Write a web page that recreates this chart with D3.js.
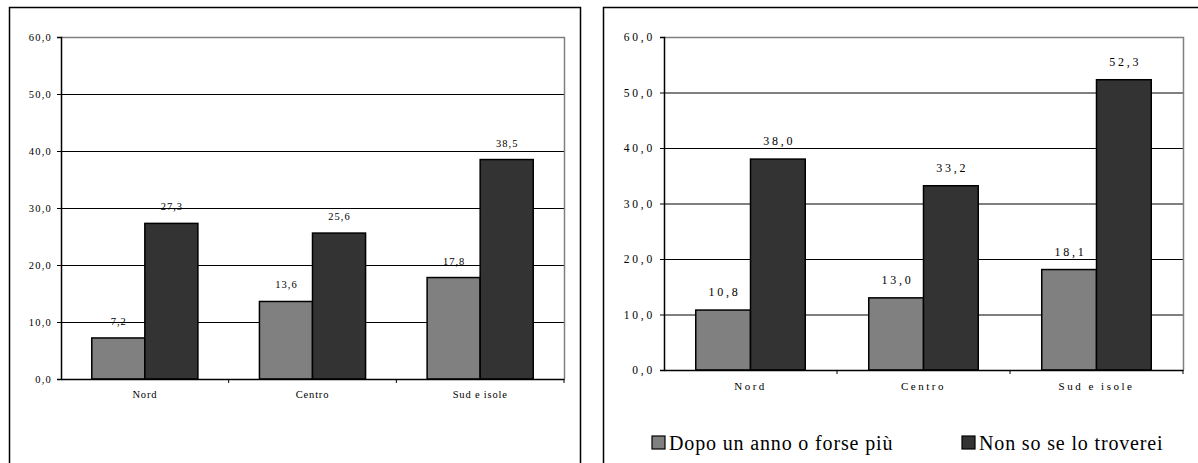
<!DOCTYPE html>
<html>
<head>
<meta charset="utf-8">
<script src="https://cdn.jsdelivr.net/npm/d3@7"></script>
<style>
  html, body { margin: 0; padding: 0; background: #fff; }
  svg { display: block; }
</style>
</head>
<body>
<svg id="chart" width="1198" height="463" font-family="Liberation Serif"></svg>
<script>
// Areas and answer groups
const categories = ["Nord", "Centro", "Sud e isole"];
const seriesNames = ["Dopo un anno o forse più", "Non so se lo troverei"];
const seriesColors = ["#808080", "#333333"];

// Left panel values (%)
const leftAfterYear = [7.2, 13.6, 17.8];
const leftDontKnow = [27.3, 25.6, 38.5];

// Right panel values (%)
const rightAfterYear = [10.8, 13.0, 18.1];
const rightDontKnow = [38.0, 33.2, 52.3];

const yTicks = [0, 10, 20, 30, 40, 50, 60];

const fmt = v => v.toFixed(1).replace(".", ",");

const svg = d3.select("#chart");

// serif text styling on a selection
function serif(sel, size, spacing) {
  sel.attr("font-family", "Liberation Serif")
    .attr("font-size", size)
    .attr("letter-spacing", spacing)
    .attr("fill", "#000");
  return sel;
}

function drawPanel(cfg) {
  const g = svg.append("g");
  // panel frame (open towards the window edges)
  g.append("path")
    .attr("d", `M${cfg.frame.x},${cfg.frame.bottom} V${cfg.frame.y} H${cfg.frame.right}` +
      (cfg.frame.closeRight ? ` V${cfg.frame.bottom}` : ""))
    .attr("fill", "none").attr("stroke", "#000").attr("stroke-width", 1.5);

  const x = d3.scaleBand().domain(categories).range([cfg.left, cfg.right]).padding(0);
  const xs = d3.scaleBand().domain([0, 1]).range([0, x.bandwidth()])
    .paddingInner(0).paddingOuter(0.58);
  const y = d3.scaleLinear().domain([0, 60]).range([cfg.bottom, cfg.top]);

  // horizontal gridlines
  g.append("g").selectAll("line").data(yTicks.filter(t => t > 0 && t < 60)).join("line")
    .attr("x1", cfg.left).attr("x2", cfg.right)
    .attr("y1", d => y(d) + 0.5).attr("y2", d => y(d) + 0.5)
    .attr("stroke", "#000").attr("stroke-width", 1);

  // plot area border (top and right)
  g.append("path")
    .attr("d", `M${cfg.left},${y(60) + 0.5} H${cfg.right + 0.5} V${cfg.bottom}`)
    .attr("fill", "none").attr("stroke", "#808080").attr("stroke-width", 1.5);

  // bars
  const rows = categories.map((c, i) => ({ c, vals: [cfg.s1[i], cfg.s2[i]] }));
  const grp = g.append("g").selectAll("g").data(rows).join("g")
    .attr("transform", d => `translate(${x(d.c)},0)`);
  grp.selectAll("rect").data(d => d.vals.map((v, k) => ({ v, k }))).join("rect")
    .attr("x", d => xs(d.k))
    .attr("width", xs.bandwidth())
    .attr("y", d => y(d.v))
    .attr("height", d => y(0) - y(d.v))
    .attr("fill", d => seriesColors[d.k])
    .attr("stroke", "#000").attr("stroke-width", 1.5);
  grp.selectAll("text").data(d => d.vals.map((v, k) => ({ v, k }))).join("text")
    .attr("x", d => xs(d.k) + xs.bandwidth() / 2 + cfg.valueSpacing / 2)
    .attr("y", d => y(d.v) - cfg.labelGap)
    .attr("text-anchor", "middle")
    .text(d => fmt(d.v))
    .call(serif, cfg.valueSize, cfg.valueSpacing);

  // y axis
  const ya = g.append("g").attr("transform", `translate(${cfg.left},0)`)
    .call(d3.axisLeft(y).tickValues(yTicks).tickSize(4).tickPadding(5).tickFormat(fmt));
  ya.attr("font-family", "Liberation Serif");
  ya.select(".domain").attr("stroke", "#000").attr("stroke-width", 1.5);
  ya.selectAll(".tick line").attr("stroke", "#000");
  ya.selectAll("text").call(serif, cfg.tickSize, cfg.tickSpacing);

  // x axis
  const xa = g.append("g").attr("transform", `translate(0,${cfg.bottom})`)
    .call(d3.axisBottom(x).tickSize(0).tickPadding(cfg.catPad));
  xa.attr("font-family", "Liberation Serif");
  xa.select(".domain").attr("stroke", "#000").attr("stroke-width", 1.5);
  xa.selectAll("text").call(serif, cfg.catSize, cfg.catSpacing);
  // category separators
  g.append("g").selectAll("line").data(categories.slice(1).concat(["__end"])).join("line")
    .attr("x1", d => d === "__end" ? cfg.right : x(d))
    .attr("x2", d => d === "__end" ? cfg.right : x(d))
    .attr("y1", cfg.bottom).attr("y2", cfg.bottom + 4)
    .attr("stroke", "#000");

  return { x, y };
}

drawPanel({
  frame: { x: 9.5, y: 7.5, right: 580.5, bottom: 470, closeRight: true },
  left: 61, right: 564, top: 37, bottom: 379,
  s1: leftAfterYear, s2: leftDontKnow,
  labelGap: 13, valueSize: 10.5, valueSpacing: 1,
  tickSize: 10.5, tickSpacing: 1.2,
  catSize: 10.5, catSpacing: 0.8, catPad: 12
});

drawPanel({
  frame: { x: 603.5, y: 7.5, right: 1205, bottom: 470, closeRight: false },
  left: 664, right: 1183, top: 37, bottom: 370,
  s1: rightAfterYear, s2: rightDontKnow,
  labelGap: 14, valueSize: 12, valueSpacing: 2.8,
  tickSize: 11.5, tickSpacing: 2.8,
  catSize: 11, catSpacing: 2.5, catPad: 12
});

// legend of the right panel
const legend = svg.append("g").attr("transform", "translate(0,443)");
const legendX = [652, 962];
seriesNames.forEach((name, k) => {
  legend.append("rect")
    .attr("x", legendX[k]).attr("y", -7)
    .attr("width", 13).attr("height", 13)
    .attr("fill", seriesColors[k]).attr("stroke", "#000").attr("stroke-width", 1.2);
  legend.append("text")
    .attr("x", legendX[k] + 17).attr("y", 7)
    .text(name)
    .call(serif, 20, 0.85);
});
</script>
</body>
</html>
